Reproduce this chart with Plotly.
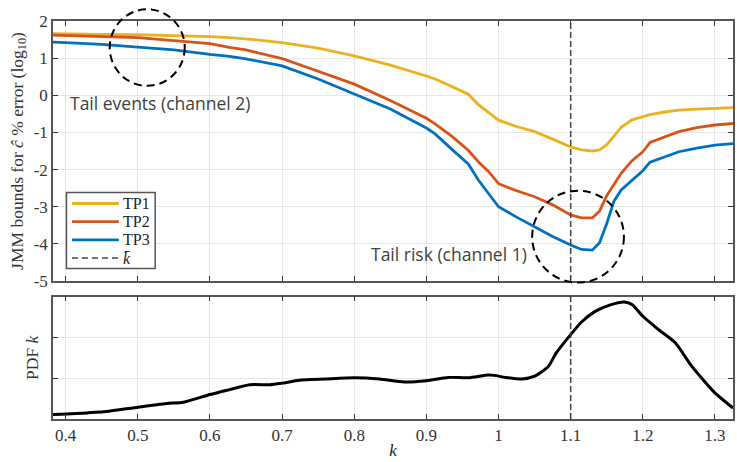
import plotly.graph_objects as go
from plotly.subplots import make_subplots

# ---------------- data ----------------
k_tp = [0.3824, 0.40, 0.45, 0.50, 0.55, 0.60, 0.627, 0.65, 0.70, 0.75, 0.80, 0.85,
        0.90, 0.912, 0.935, 0.958, 0.972, 0.986, 1.0, 1.025, 1.05, 1.075, 1.1, 1.115,
        1.13, 1.14, 1.15, 1.16, 1.17, 1.185, 1.2, 1.21, 1.23, 1.25, 1.275, 1.3, 1.325]
tp1 = [1.66, 1.65, 1.64, 1.63, 1.61, 1.58, 1.55, 1.52, 1.42, 1.27, 1.06, 0.81,
       0.52, 0.44, 0.24, 0.03, -0.25, -0.45, -0.67, -0.84, -0.98, -1.18, -1.39, -1.47,
       -1.50, -1.47, -1.33, -1.10, -0.86, -0.66, -0.58, -0.52, -0.45, -0.40, -0.37, -0.36, -0.33]
tp2 = [1.62, 1.61, 1.59, 1.55, 1.47, 1.39, 1.29, 1.22, 0.99, 0.64, 0.30, -0.14,
       -0.62, -0.77, -1.10, -1.48, -1.79, -2.05, -2.38, -2.57, -2.73, -2.95, -3.22, -3.30,
       -3.30, -3.12, -2.70, -2.40, -2.10, -1.76, -1.52, -1.27, -1.12, -0.98, -0.87, -0.80, -0.76]
tp3 = [1.43, 1.42, 1.37, 1.30, 1.22, 1.10, 1.05, 0.98, 0.79, 0.44, 0.03, -0.37,
       -0.88, -1.04, -1.45, -1.85, -2.28, -2.65, -3.00, -3.28, -3.54, -3.80, -4.03, -4.15,
       -4.17, -3.97, -3.45, -2.85, -2.55, -2.28, -2.03, -1.80, -1.65, -1.52, -1.42, -1.34, -1.30]

k_pdf = [0.3824, 0.40, 0.43, 0.46, 0.50, 0.54, 0.563, 0.60, 0.627, 0.655, 0.683, 0.70,
         0.724, 0.76, 0.80, 0.835, 0.869, 0.90, 0.93, 0.958, 0.986, 0.994, 1.01, 1.0325,
         1.05, 1.069, 1.08, 1.1, 1.115, 1.134, 1.155, 1.174, 1.185, 1.2, 1.222, 1.245,
         1.268, 1.3, 1.325]
pdf = [0.11, 0.12, 0.15, 0.19, 0.29, 0.38, 0.41, 0.60, 0.72, 0.84, 0.84, 0.88,
       0.95, 0.98, 1.01, 0.98, 0.91, 0.94, 1.02, 1.01, 1.08, 1.07, 1.02, 0.98,
       1.05, 1.29, 1.62, 2.07, 2.38, 2.64, 2.80, 2.87, 2.81, 2.52, 2.19, 1.87,
       1.29, 0.64, 0.27]

k_bar = 1.1
series_names = ["TP1", "TP2", "TP3"]
series_colors = ["#EDB120", "#D95319", "#0072BD"]
kbar_label = "<i>k̄</i>"

x_ticks = [0.4, 0.5, 0.6, 0.7, 0.8, 0.9, 1.0, 1.1, 1.2, 1.3]
x_ticktext = ["0.4", "0.5", "0.6", "0.7", "0.8", "0.9", "1", "1.1", "1.2", "1.3"]
y_ticks = [2, 1, 0, -1, -2, -3, -4, -5]
y_ticktext = ["2", "1", "0", "-1", "-2", "-3", "-4", "-5"]
pdf_ticks = [1, 2]

# circles: (center k, center value, radius k, radius value)
circles = [(0.513, 1.285, 0.052, 1.03), (1.1102, -3.806, 0.0636, 1.237)]
notes = [("Tail events (channel 2)", 0.403, -0.21), ("Tail risk (channel 1)", 0.820, -4.27)]

# ---------------- layout params ----------------
W, H = 737, 462
ML, MR, MT, MB = 53, 2, 21, 43
XR = [0.3824, 1.325]
YR_TOP = [-5, 2]
YR_BOT = [0, 3]
DOM_TOP = [0.3467, 1.0]
DOM_BOT = [0.0, 0.3073]
SERIF = "Liberation Serif"
SANS = "Open Sans"
AXC = "#555555"
GRIDC = "#e6e6e6"
TICKFONT = dict(family=SERIF, size=17, color="#333333")

fig = make_subplots(rows=2, cols=1, shared_xaxes=False)

for name, col, vals in zip(series_names, series_colors, [tp1, tp2, tp3]):
    fig.add_trace(go.Scatter(x=k_tp, y=vals, mode="lines", name=name, showlegend=False,
                             line=dict(color=col, width=2.8)), row=1, col=1)

fig.add_trace(go.Scatter(x=[k_bar, k_bar], y=YR_TOP, mode="lines", name="k_bar", showlegend=False,
                         line=dict(color="#444444", width=1.5, dash="6px,3px")), row=1, col=1)

fig.add_trace(go.Scatter(x=k_pdf, y=pdf, mode="lines", showlegend=False,
                         line=dict(color="black", width=3, shape="spline", smoothing=0.6)),
              row=2, col=1)
fig.add_trace(go.Scatter(x=[k_bar, k_bar], y=YR_BOT, mode="lines", showlegend=False,
                         line=dict(color="#444444", width=1.5, dash="6px,3px")), row=2, col=1)

axis_common = dict(showline=True, linecolor=AXC, linewidth=1.5, mirror="ticks",
                   ticks="inside", ticklen=5, tickcolor="#333333", tickwidth=1.2,
                   showgrid=True, gridcolor=GRIDC, gridwidth=1, zeroline=False)

fig.update_xaxes(axis_common, range=XR, tickvals=x_ticks, ticktext=x_ticktext,
                 tickfont=TICKFONT, domain=[0, 1])
fig.update_xaxes(showticklabels=False, row=1, col=1)
fig.update_xaxes(row=2, col=1,
                 title=dict(text="<i>k</i>", font=dict(family=SERIF, size=17, color="#222222"),
                            standoff=0))
fig.update_yaxes(axis_common, tickfont=TICKFONT)
fig.update_yaxes(range=YR_TOP, tickvals=y_ticks, ticktext=y_ticktext, domain=DOM_TOP,
                 row=1, col=1,
                 title=dict(text="JMM bounds for <i>ĉ</i> % error (log<sub>10</sub>)",
                            font=dict(family=SERIF, size=17.5, color="#333333"), standoff=6))
fig.update_yaxes(range=YR_BOT, tickvals=pdf_ticks, showticklabels=False, domain=DOM_BOT,
                 row=2, col=1,
                 title=dict(text="PDF <i>k</i>", font=dict(family=SERIF, size=17.5, color="#333333"),
                            standoff=8))


def px_x(k):
    return (k - XR[0]) / (XR[1] - XR[0])


def px_y(v):
    return DOM_TOP[0] + (v - YR_TOP[0]) / (YR_TOP[1] - YR_TOP[0]) * (DOM_TOP[1] - DOM_TOP[0])


def pix2paper(px, py):
    return (px - ML) / (W - ML - MR), (H - MB - py) / (H - MT - MB)


for ck, cv, rk, rv in circles:
    fig.add_shape(type="circle", xref="paper", yref="paper",
                  x0=px_x(ck - rk), x1=px_x(ck + rk), y0=px_y(cv - rv), y1=px_y(cv + rv),
                  line=dict(color="black", width=2, dash="8px,5px"), layer="above")

for text, kx, vy in notes:
    fig.add_annotation(x=kx, y=vy, xref="x", yref="y", text=text, showarrow=False,
                       xanchor="left", yanchor="middle",
                       font=dict(family=SANS, size=17.5, color="#404040"))

# ---------- hand-built legend (box, line samples, labels) ----------
bx0, by0 = pix2paper(66.5, 268.5)
bx1, by1 = pix2paper(155.5, 192.5)
fig.add_shape(type="rect", xref="paper", yref="paper", x0=bx0, y0=by0, x1=bx1, y1=by1,
              line=dict(color=AXC, width=1.5), fillcolor="white", layer="above")
leg_labels = series_names + [kbar_label]
leg_colors = series_colors + ["#444444"]
leg_dash = ["solid", "solid", "solid", "6px,4px"]
leg_width = [2.8, 2.8, 2.8, 1.5]
for i, (lab, colr, dsh, lw) in enumerate(zip(leg_labels, leg_colors, leg_dash, leg_width)):
    ypix = 203.5 + i * 18.2
    lx0, ly = pix2paper(72, ypix)
    lx1, _ = pix2paper(119, ypix)
    fig.add_shape(type="line", xref="paper", yref="paper", x0=lx0, x1=lx1, y0=ly, y1=ly,
                  line=dict(color=colr, width=lw, dash=dsh), layer="above")
    tx, _ = pix2paper(121, ypix)
    fig.add_annotation(x=tx, y=ly, xref="paper", yref="paper", text=lab, showarrow=False,
                       xanchor="left", yanchor="middle",
                       font=dict(family=SERIF, size=16, color="#222222"))

fig.update_layout(
    width=W, height=H,
    margin=dict(l=ML, r=MR, t=MT, b=MB),
    paper_bgcolor="white", plot_bgcolor="white",
    showlegend=False,
)

fig.write_html("out.html")
